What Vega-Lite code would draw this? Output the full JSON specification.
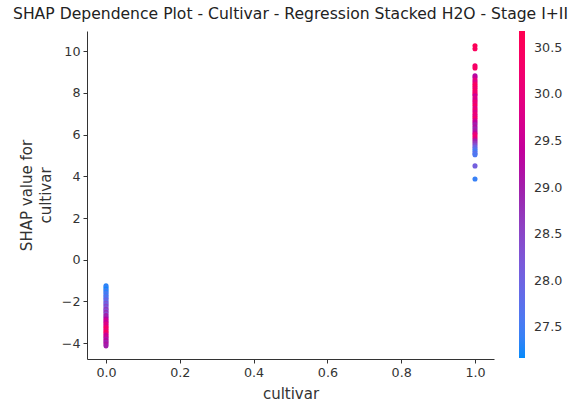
{
  "$schema": "https://vega.github.io/schema/vega-lite/v6.json",
  "width": 407,
  "height": 328,
  "autosize": {"type": "none"},
  "padding": {"left": 87, "top": 31, "right": 77, "bottom": 44},
  "background": "white",
  "config": {
    "view": {"stroke": null},
    "font": "DejaVu Sans"
  },
  "title": {
    "text": "SHAP Dependence Plot - Cultivar - Regression Stacked H2O - Stage I+II",
    "fontSize": 15.6,
    "fontWeight": "normal",
    "font": "DejaVu Sans",
    "color": "#222222",
    "anchor": "middle",
    "frame": "group",
    "baseline": "alphabetic",
    "offset": 8,
    "dy": 12
  },
  "data": {
    "values": [
      {"cultivar": 0, "shap": -1.25, "temp": 27.3},
      {"cultivar": 0, "shap": -1.32, "temp": 27.4},
      {"cultivar": 0, "shap": -1.40, "temp": 27.2},
      {"cultivar": 0, "shap": -1.48, "temp": 27.5},
      {"cultivar": 0, "shap": -1.55, "temp": 27.3},
      {"cultivar": 0, "shap": -1.62, "temp": 27.6},
      {"cultivar": 0, "shap": -1.70, "temp": 27.4},
      {"cultivar": 0, "shap": -1.78, "temp": 27.8},
      {"cultivar": 0, "shap": -1.85, "temp": 27.5},
      {"cultivar": 0, "shap": -1.92, "temp": 28.0},
      {"cultivar": 0, "shap": -2.00, "temp": 27.7},
      {"cultivar": 0, "shap": -2.08, "temp": 28.3},
      {"cultivar": 0, "shap": -2.15, "temp": 27.9},
      {"cultivar": 0, "shap": -2.22, "temp": 28.5},
      {"cultivar": 0, "shap": -2.30, "temp": 28.1},
      {"cultivar": 0, "shap": -2.38, "temp": 28.7},
      {"cultivar": 0, "shap": -2.45, "temp": 28.3},
      {"cultivar": 0, "shap": -2.52, "temp": 28.8},
      {"cultivar": 0, "shap": -2.60, "temp": 28.4},
      {"cultivar": 0, "shap": -2.68, "temp": 29.0},
      {"cultivar": 0, "shap": -2.76, "temp": 28.9},
      {"cultivar": 0, "shap": -2.84, "temp": 29.3},
      {"cultivar": 0, "shap": -2.92, "temp": 29.6},
      {"cultivar": 0, "shap": -3.00, "temp": 29.4},
      {"cultivar": 0, "shap": -3.08, "temp": 29.9},
      {"cultivar": 0, "shap": -3.16, "temp": 29.7},
      {"cultivar": 0, "shap": -3.24, "temp": 30.2},
      {"cultivar": 0, "shap": -3.32, "temp": 30.4},
      {"cultivar": 0, "shap": -3.40, "temp": 30.1},
      {"cultivar": 0, "shap": -3.48, "temp": 30.5},
      {"cultivar": 0, "shap": -3.56, "temp": 30.0},
      {"cultivar": 0, "shap": -3.64, "temp": 29.4},
      {"cultivar": 0, "shap": -3.72, "temp": 29.6},
      {"cultivar": 0, "shap": -3.80, "temp": 29.1},
      {"cultivar": 0, "shap": -3.88, "temp": 29.3},
      {"cultivar": 0, "shap": -3.96, "temp": 28.9},
      {"cultivar": 0, "shap": -4.04, "temp": 29.2},
      {"cultivar": 0, "shap": -4.13, "temp": 29.0},
      {"cultivar": 1, "shap": 10.26, "temp": 30.6},
      {"cultivar": 1, "shap": 10.12, "temp": 30.5},
      {"cultivar": 1, "shap": 9.30, "temp": 30.3},
      {"cultivar": 1, "shap": 9.20, "temp": 30.4},
      {"cultivar": 1, "shap": 8.82, "temp": 29.2},
      {"cultivar": 1, "shap": 8.74, "temp": 29.4},
      {"cultivar": 1, "shap": 8.62, "temp": 30.0},
      {"cultivar": 1, "shap": 8.52, "temp": 29.8},
      {"cultivar": 1, "shap": 8.42, "temp": 30.3},
      {"cultivar": 1, "shap": 8.32, "temp": 30.5},
      {"cultivar": 1, "shap": 8.22, "temp": 30.2},
      {"cultivar": 1, "shap": 8.12, "temp": 30.4},
      {"cultivar": 1, "shap": 8.02, "temp": 30.1},
      {"cultivar": 1, "shap": 7.94, "temp": 30.3},
      {"cultivar": 1, "shap": 7.86, "temp": 29.5},
      {"cultivar": 1, "shap": 7.76, "temp": 29.9},
      {"cultivar": 1, "shap": 7.66, "temp": 29.6},
      {"cultivar": 1, "shap": 7.58, "temp": 30.2},
      {"cultivar": 1, "shap": 7.48, "temp": 30.0},
      {"cultivar": 1, "shap": 7.38, "temp": 30.4},
      {"cultivar": 1, "shap": 7.28, "temp": 29.9},
      {"cultivar": 1, "shap": 7.18, "temp": 30.2},
      {"cultivar": 1, "shap": 7.08, "temp": 29.8},
      {"cultivar": 1, "shap": 6.98, "temp": 30.1},
      {"cultivar": 1, "shap": 6.88, "temp": 29.9},
      {"cultivar": 1, "shap": 6.78, "temp": 30.3},
      {"cultivar": 1, "shap": 6.68, "temp": 29.7},
      {"cultivar": 1, "shap": 6.58, "temp": 29.3},
      {"cultivar": 1, "shap": 6.48, "temp": 29.0},
      {"cultivar": 1, "shap": 6.38, "temp": 29.2},
      {"cultivar": 1, "shap": 6.28, "temp": 28.9},
      {"cultivar": 1, "shap": 6.18, "temp": 29.1},
      {"cultivar": 1, "shap": 6.08, "temp": 29.4},
      {"cultivar": 1, "shap": 6.00, "temp": 30.0},
      {"cultivar": 1, "shap": 5.90, "temp": 30.3},
      {"cultivar": 1, "shap": 5.80, "temp": 29.8},
      {"cultivar": 1, "shap": 5.70, "temp": 29.0},
      {"cultivar": 1, "shap": 5.60, "temp": 28.7},
      {"cultivar": 1, "shap": 5.50, "temp": 28.4},
      {"cultivar": 1, "shap": 5.40, "temp": 28.0},
      {"cultivar": 1, "shap": 5.30, "temp": 27.7},
      {"cultivar": 1, "shap": 5.20, "temp": 27.5},
      {"cultivar": 1, "shap": 5.10, "temp": 27.8},
      {"cultivar": 1, "shap": 5.04, "temp": 27.6},
      {"cultivar": 1, "shap": 4.50, "temp": 28.1},
      {"cultivar": 1, "shap": 3.87, "temp": 27.4}
    ]
  },
  "mark": {"type": "point", "filled": true, "size": 26, "opacity": 1, "strokeWidth": 0},
  "encoding": {
    "x": {
      "field": "cultivar",
      "type": "quantitative",
      "scale": {"domain": [-0.0515, 1.0515], "nice": false, "zero": false},
      "axis": {
        "title": "cultivar",
        "values": [0, 0.2, 0.4, 0.6, 0.8, 1.0],
        "format": ".1f",
        "grid": false,
        "domainColor": "#333333",
        "domainWidth": 1,
        "tickColor": "#333333",
        "tickSize": 4,
        "labelFontSize": 12.7,
        "labelColor": "#333333",
        "labelPadding": 3,
        "titleFontSize": 15,
        "titleFontWeight": "normal",
        "titleColor": "#333333",
        "titlePadding": 8
      }
    },
    "y": {
      "field": "shap",
      "type": "quantitative",
      "scale": {"domain": [-4.76, 10.97], "nice": false, "zero": false},
      "axis": {
        "title": ["SHAP value for", "cultivar"],
        "values": [-4, -2, 0, 2, 4, 6, 8, 10],
        "labelExpr": "replace(datum.label, '-', '\u2212')",
        "grid": false,
        "domainColor": "#333333",
        "domainWidth": 1,
        "tickColor": "#333333",
        "tickSize": 4,
        "labelFontSize": 12.7,
        "labelColor": "#333333",
        "labelPadding": 3,
        "titleFontSize": 15,
        "titleFontWeight": "normal",
        "titleColor": "#333333",
        "titleLineHeight": 19,
        "titlePadding": 8
      }
    },
    "color": {
      "field": "temp",
      "type": "quantitative",
      "scale": {
        "domain": [27.17, 28.925, 30.68],
        "range": ["#008bfb", "#9b24ad", "#ff0051"],
        "interpolate": "hcl"
      },
      "legend": {
        "orient": "none",
        "legendX": 432,
        "legendY": 0,
        "direction": "vertical",
        "gradientLength": 327,
        "gradientThickness": 6,
        "gradientStrokeWidth": 0,
        "padding": 0,
        "values": [27.5, 28.0, 28.5, 29.0, 29.5, 30.0, 30.5],
        "format": ".1f",
        "labelOverlap": false,
        "labelFontSize": 12.7,
        "labelColor": "#333333",
        "labelOffset": 9,
        "title": "Mean Air Temperature - Stage I+II (\u00b0C)",
        "titleOrient": "right",
        "titleAngle": 270,
        "titleFontSize": 14,
        "titleFontWeight": "normal",
        "titleColor": "#333333",
        "titlePadding": 10
      }
    }
  }
}
